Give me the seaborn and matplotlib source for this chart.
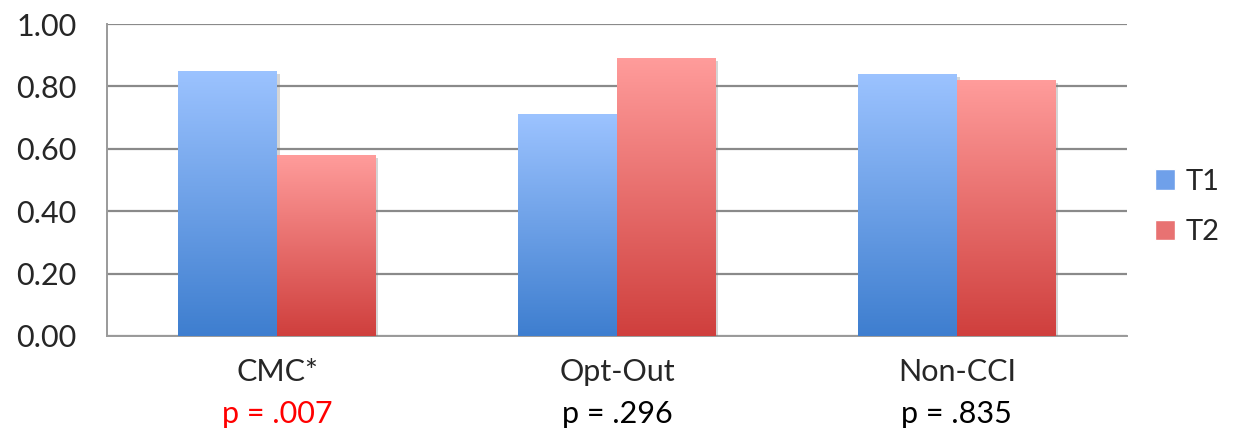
import numpy as np
import pandas as pd
import matplotlib
matplotlib.use("Agg")
import matplotlib.pyplot as plt
import matplotlib.patheffects as pe
from matplotlib.colors import LinearSegmentedColormap
from matplotlib.patches import Patch
import matplotlib.transforms as mtransforms
import seaborn as sns

categories = ["CMC*", "Opt-Out", "Non-CCI"]
t1_values = [0.85, 0.71, 0.84]
t2_values = [0.58, 0.89, 0.82]
p_labels = ["p = .007", "p = .296", "p = .835"]
p_colors = ["#ff0000", "black", "black"]

df = pd.DataFrame({
    "group": categories * 2,
    "time": ["T1"] * 3 + ["T2"] * 3,
    "value": t1_values + t2_values,
})

sns.set_style("white")
plt.rcParams["font.family"] = ["Lato", "DejaVu Sans"]

fig = plt.figure(figsize=(12.34, 4.45), dpi=100)
ax = fig.add_axes([0.0867, 0.245, 0.8265, 0.701])

palette = {"T1": "#6FA0EA", "T2": "#E87272"}
sns.barplot(data=df, x="group", y="value", hue="time", order=categories,
            hue_order=["T1", "T2"], palette=palette, width=0.58, gap=0,
            ax=ax, legend=False, saturation=1, zorder=3, linewidth=0, edgecolor="none")

# gradient fills like the Excel original
grads = {
    "T1": LinearSegmentedColormap.from_list("b", ["#3E7ECF", "#9CC3FF"]),
    "T2": LinearSegmentedColormap.from_list("r", ["#CF3F3D", "#FF9C9B"]),
}
grad = np.linspace(0, 1, 256).reshape(-1, 1)
bars = [p for p in ax.patches if p.get_height() > 0]
for i, bar in enumerate(bars):
    key = "T1" if i < 3 else "T2"
    bar.set_path_effects([pe.SimplePatchShadow(offset=(2, -2), shadow_rgbFace="#777777", alpha=0.3),
                          pe.Normal()])
    x0, w, h = bar.get_x(), bar.get_width(), bar.get_height()
    im = ax.imshow(grad, cmap=grads[key], origin="lower", aspect="auto",
                   extent=[x0, x0 + w, 0, h], zorder=4)
    im.set_clip_path(bar)

ax.set_xlim(-0.5, 2.5)
ax.set_ylim(0, 1.0)
ax.set_yticks(np.arange(0, 1.01, 0.2))
ax.set_yticklabels([f"{v:.2f}" for v in np.arange(0, 1.01, 0.2)], fontsize=22)
ax.yaxis.grid(True, color="#8a8a8a", linewidth=1.6, zorder=0)
ax.set_axisbelow(True)

ax.set_xticks([-0.5, 0.5, 1.5, 2.5])
ax.set_xticklabels([])
ax.set_xticks([0, 1, 2], minor=True)
ax.set_xticklabels(categories, minor=True, fontsize=22)
ax.tick_params(axis="x", which="minor", length=0, pad=16)
ax.tick_params(axis="x", which="major", direction="out", length=10, color="#9a9a9a", width=1.2)
ax.tick_params(axis="y", direction="out", length=8, color="#9a9a9a", width=1.2, pad=14)
ax.set_xlabel("")
ax.set_ylabel("")

for s in ["top", "right"]:
    ax.spines[s].set_visible(False)
for s in ["left", "bottom"]:
    ax.spines[s].set_color("#9a9a9a")
    ax.spines[s].set_linewidth(1.4)

trans = mtransforms.blended_transform_factory(ax.transData, ax.transAxes)
for i, (lab, col) in enumerate(zip(p_labels, p_colors)):
    ax.text(i, -0.25, lab, transform=trans, ha="center", va="center",
            fontsize=22, color=col)

handles = [Patch(facecolor=palette["T1"]), Patch(facecolor=palette["T2"])]
fig.legend(handles, ["T1", "T2"], loc="center left", bbox_to_anchor=(0.936, 0.535),
           frameon=False, fontsize=21, handlelength=0.7, handleheight=0.7,
           handletextpad=0.35, labelspacing=0.85, borderpad=0, borderaxespad=0)

fig.savefig("out.png", dpi=100)
